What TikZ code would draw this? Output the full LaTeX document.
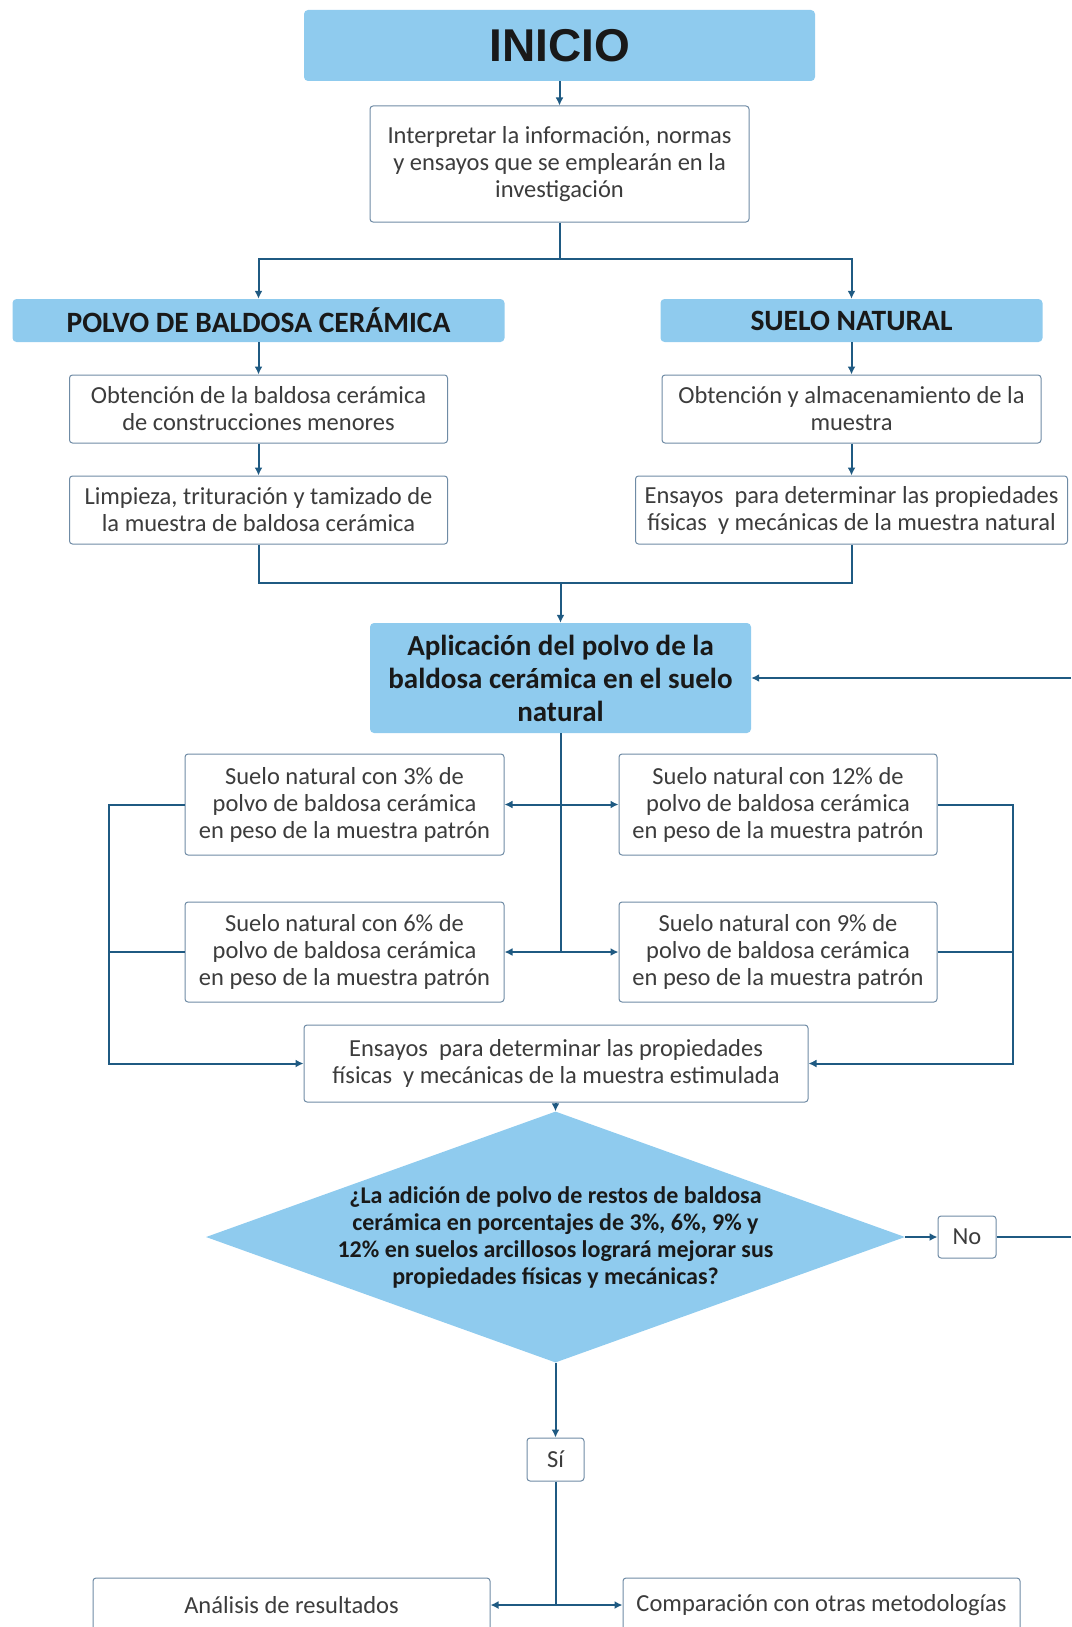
\documentclass[tikz,border=0pt]{standalone}
\usepackage{fontspec}
\setmainfont{Carlito}
\newfontfamily\headfont{Liberation Sans}
\usetikzlibrary{arrows.meta,shapes.geometric}
\definecolor{fillblue}{HTML}{8FCBEE}
\definecolor{linkblue}{HTML}{1F5A82}
\definecolor{edgegray}{HTML}{6F8BA5}
\definecolor{txt}{HTML}{3C3C3C}
\begin{document}
\begin{tikzpicture}[x=1pt,y=-1pt,
 box/.style={draw=edgegray, line width=1pt, rounded corners=3pt, fill=white, text=txt, align=center, inner sep=0pt, font=\fontsize{24.5}{27}\selectfont},
 head/.style={fill=fillblue, rounded corners=4pt, text=black!90, align=center, inner sep=0pt, font=\fontsize{29.5}{32}\selectfont\bfseries},
 link/.style={draw=linkblue, line width=2pt, -{Latex[length=8pt,width=8pt]}},
 plain/.style={draw=linkblue, line width=2pt},
]
\useasboundingbox (0,0) rectangle (1071,1627);

\node[head, minimum width=511pt, minimum height=71pt, font=\headfont\fontsize{46}{50}\selectfont\bfseries] (inicio) at (559.5,45.5) {INICIO};
\node[box, minimum width=379pt, minimum height=116pt] (interp) at (559.5,164) {Interpretar la información, normas\\y ensayos que se emplearán en la\\investigación};
\node[head, minimum width=492pt, minimum height=43pt] (polvo) at (258.5,320.5) {POLVO DE BALDOSA CERÁMICA};
\node[head, minimum width=382pt, minimum height=43pt] (suelo) at (851.5,320.5) {SUELO NATURAL};
\node[box, minimum width=378pt, minimum height=68pt] (obtL) at (258.5,409) {Obtención de la baldosa cerámica\\de construcciones menores};
\node[box, minimum width=379pt, minimum height=68pt] (obtR) at (851.5,409) {Obtención y almacenamiento de la\\muestra};
\node[box, minimum width=378pt, minimum height=68pt] (limp) at (258.5,510) {Limpieza, trituración y tamizado de\\la muestra de baldosa cerámica};
\node[box, minimum width=432pt, minimum height=68pt] (ensN) at (851.5,510) {Ensayos\ \ para determinar las propiedades\\físicas\ \ y mecánicas de la muestra natural};
\node[head, minimum width=381pt, minimum height=110pt, font=\fontsize{29}{33}\selectfont\bfseries] (aplic) at (560.5,678) {Aplicación del polvo de la\\baldosa cerámica en el suelo\\natural};
\node[box, minimum width=319pt, minimum height=101pt] (s3) at (344.5,804.5) {Suelo natural con 3\% de\\polvo de baldosa cerámica\\en peso de la muestra patrón};
\node[box, minimum width=318pt, minimum height=101pt] (s12) at (778,804.5) {Suelo natural con 12\% de\\polvo de baldosa cerámica\\en peso de la muestra patrón};
\node[box, minimum width=319pt, minimum height=100pt] (s6) at (344.5,952) {Suelo natural con 6\% de\\polvo de baldosa cerámica\\en peso de la muestra patrón};
\node[box, minimum width=318pt, minimum height=100pt] (s9) at (778,952) {Suelo natural con 9\% de\\polvo de baldosa cerámica\\en peso de la muestra patrón};
\node[box, minimum width=504pt, minimum height=77pt] (ensE) at (556,1063.5) {Ensayos\ \ para determinar las propiedades\\físicas\ \ y mecánicas de la muestra estimulada};
\node[diamond, fill=fillblue, minimum width=699pt, minimum height=251pt, inner sep=0pt] (dec) at (555.5,1237) {};
\node[align=center, inner sep=0pt, text=black!90, font=\fontsize{24}{27}\selectfont\bfseries] (dectext) at (dec.center) {¿La adición de polvo de restos de baldosa\\cerámica en porcentajes de 3\%, 6\%, 9\% y\\12\% en suelos arcillosos logrará mejorar sus\\propiedades físicas y mecánicas?};
\node[box, minimum width=58pt, minimum height=42pt] (no) at (967,1237) {No};
\node[box, minimum width=57pt, minimum height=43pt] (si) at (555.5,1459.5) {Sí};
\node[box, minimum width=397pt, minimum height=54pt] (ana) at (291.5,1605) {Análisis de resultados};
\node[box, minimum width=397pt, minimum height=54pt] (comp) at (821.5,1605) {Comparación con otras metodologías};

% connectors
\draw[link] (inicio) -- (interp);
\coordinate (split) at (559.5,259);
\draw[plain] (interp.south) -- (split);
\draw[link] (split) -| (polvo.north);
\draw[link] (split) -| (suelo.north);
\draw[link] (polvo) -- (obtL);
\draw[link] (obtL) -- (limp);
\draw[link] (suelo) -- (obtR);
\draw[link] (obtR) -- (ensN);
\coordinate (merge) at (560.5,583);
\draw[plain] (limp.south) |- (merge) -| (ensN.south);
\draw[link] (merge) -- (aplic);
\coordinate (c1) at (aplic.south |- s3.east);
\coordinate (c2) at (aplic.south |- s6.east);
\draw[plain] (aplic.south) -- (c2);
\draw[link] (c1) -- (s3.east);
\draw[link] (c1) -- (s12.west);
\draw[link] (c2) -- (s6.east);
\draw[link] (c2) -- (s9.west);
\coordinate (lbus) at (109,804.5);
\coordinate (rbus) at (1013,804.5);
\draw[link] (s3.west) -- (lbus) |- (ensE.west);
\draw[plain] (s6.west) -- (s6.west -| lbus);
\draw[link] (s12.east) -- (rbus) |- (ensE.east);
\draw[plain] (s9.east) -- (s9.east -| rbus);
\draw[link] (ensE.south -| dec.north) -- (dec.north);
\draw[link] (dec.east) -- (no.west);
\coordinate (noEnd) at (1071,1237);
\draw[plain] (no.east) -- (noEnd);
\coordinate (backIn) at (1071,678);
\draw[link] (backIn) -- (aplic.east);
\draw[link] (dec.south) -- (si.north);
\coordinate (bot) at (si.south |- ana.east);
\draw[plain] (si.south) -- (bot);
\draw[link] (bot) -- (ana.east);
\draw[link] (bot) -- (comp.west);
\end{tikzpicture}
\end{document}
